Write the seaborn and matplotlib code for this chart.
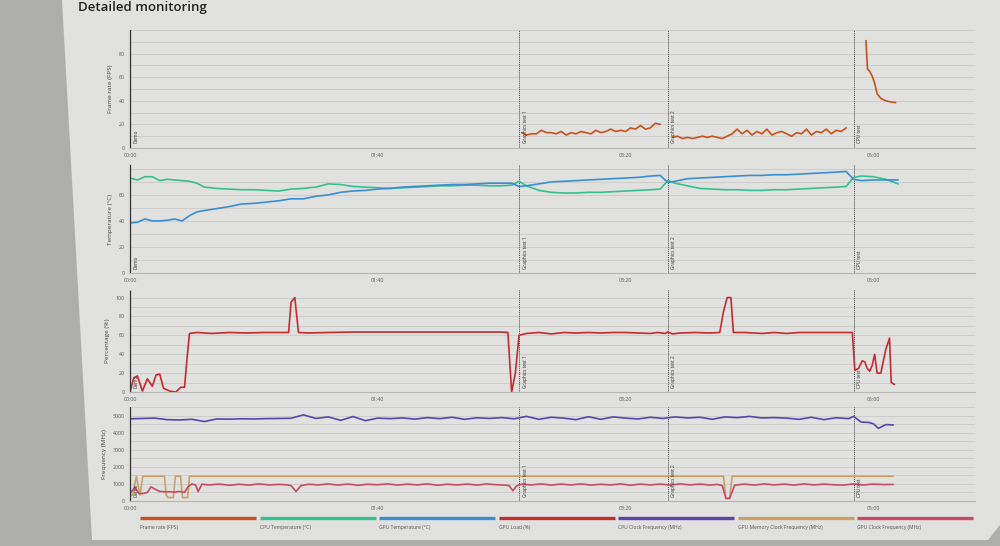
import matplotlib
matplotlib.use("Agg")
import matplotlib.pyplot as plt
from matplotlib.patches import Polygon
import seaborn as sns
import pandas as pd

# ---- data (seconds on x) ----
series_names = ["Frame rate (FPS)", "CPU Temperature (°C)", "GPU Temperature (°C)", "GPU Load (%)",
                "CPU Clock Frequency (MHz)", "GPU Memory Clock Frequency (MHz)", "GPU Clock Frequency (MHz)"]
series_colors = ["#c9521f", "#35c093", "#3a8fd2", "#c42b30", "#5a44ad", "#c9a06a", "#c94a64"]

x_ticks = [0, 100, 200, 300]
x_tick_labels = ["00:00", "01:40", "03:20", "05:00"]

marker_times = [0, 157, 217, 292]
marker_labels = ["Demo", "Graphics test 1", "Graphics test 2", "CPU test"]

fps_ticks = [0, 20, 40, 60, 80]
temp_ticks = [0, 20, 40, 60]
load_ticks = [0, 20, 40, 60, 80, 100]
freq_ticks = [0, 1000, 2000, 3000, 4000, 5000]

# frame rate, three test segments
fps_gt1_t = [158, 160, 162, 164, 166, 168, 170, 172, 174, 176, 178, 180, 182, 184, 186, 188, 190, 192, 194,
             196, 198, 200, 202, 204, 206, 208, 210, 212, 214]
fps_gt1 = [13, 11, 12, 12, 15, 13, 13, 12, 14, 11, 13, 12, 14, 13, 12, 15, 13, 14, 16,
           14, 15, 14, 17, 16, 19, 16, 17, 21, 20]
fps_gt2_t = [219, 221, 223, 225, 227, 229, 231, 233, 235, 237, 239, 241, 243, 245, 247, 249, 251, 253,
             255, 257, 259, 261, 263, 265, 267, 269, 271, 273, 275, 277, 279, 281, 283, 285, 287, 289]
fps_gt2 = [9, 10, 8, 9, 8, 9, 10, 9, 10, 9, 8, 10, 12, 16, 12, 15, 11, 14,
           12, 16, 11, 13, 14, 12, 10, 13, 12, 16, 11, 14, 13, 16, 12, 15, 14, 17]
fps_cpu_t = [297, 297.6, 298.5, 299.5, 300.5, 301.5, 303, 305, 307, 309]
fps_cpu = [91, 67, 65, 61, 55, 46, 42, 40, 39, 38.5]

# temperatures
temp_t = [0, 3, 6, 9, 12, 15, 18, 21, 24, 27, 30, 35, 40, 45, 50, 55, 60, 65, 70, 75,
          80, 85, 90, 95, 100, 105, 110, 115, 120, 125, 130, 135, 140, 145, 150, 154, 157, 160, 165, 170,
          175, 180, 185, 190, 195, 200, 205, 210, 214, 217, 220, 225, 230, 235, 240, 245, 250, 255, 260, 265,
          270, 275, 280, 285, 289, 292, 295, 300, 305, 310]
cpu_temp = [73, 71.5, 74, 74, 71, 72, 71.5, 71, 70.5, 69, 66, 65, 64.5, 64, 64, 63.5, 63, 64.5, 65, 66,
            68.5, 68, 66.5, 66, 65.5, 65, 65.5, 66, 66.5, 67, 67, 67.5, 67.5, 67, 67, 67.5, 70.5, 67, 63.5, 62,
            61.5, 61.5, 62, 62, 62.5, 63, 63.5, 64, 64.5, 71, 69, 67, 65, 64.5, 64, 64, 63.5, 63.5, 64, 64,
            64.5, 65, 65.5, 66, 66.5, 73.5, 74.5, 74, 72, 68.5]
gpu_temp = [38.5, 39, 41.5, 40, 40, 40.5, 41.5, 40, 44, 47, 48, 49.5, 51, 53, 53.5, 54.5, 55.5, 57, 57, 59,
            60, 62, 63, 63.5, 64.5, 65, 66, 66.5, 67, 67.5, 68, 68, 68.5, 69, 69, 69, 66.5, 67, 68.5, 70,
            70.5, 71, 71.5, 72, 72.5, 73, 73.5, 74.5, 75, 69.5, 70.5, 72.5, 73, 73.5, 74, 74.5, 75, 75, 75.5, 75.5,
            76, 76.5, 77, 77.5, 78, 72, 71, 71.5, 71.5, 71.5]

# GPU load
load_t = [0, 1.5, 3, 5, 7, 9, 10.5, 12, 13.5, 16, 18.5, 20.5, 22, 23, 24, 27, 33, 40, 47, 54,
          60, 64, 65, 66.5, 68, 72, 80, 90, 100, 110, 120, 130, 140, 150, 152.5, 154, 155.5, 157, 160, 165,
          170, 175, 180, 185, 190, 195, 200, 205, 210, 213, 216, 217, 219, 222, 228, 234, 238, 239.5, 241, 242.5,
          243.5, 248, 255, 260, 265, 270, 275, 280, 285, 290, 291.5, 292.5, 294, 295.5, 296.5, 297.5, 298.5, 299.5, 300.5, 301.5,
          303, 305, 306.5, 307.2, 308.5]
load_v = [0, 15, 17, 1, 14, 6, 18, 19, 4, 1, 0, 5, 5, 35, 62, 63, 62, 63, 62.5, 63,
          63, 63, 95, 100, 63, 62.5, 63, 63.5, 63.5, 63.5, 63.5, 63.5, 63.5, 63.5, 63, 0, 20, 60, 62, 63,
          61.5, 63, 62.5, 63, 62.5, 63, 63, 62.5, 62, 63, 62, 63.5, 61.5, 62.5, 63, 62.5, 63, 85, 100, 100,
          63, 63, 62, 63, 62, 63, 63, 63, 63, 63, 63, 23, 25, 33, 32, 25, 22, 28, 40, 20,
          20, 45, 57, 10, 8]

# frequencies
cpu_clk_t = [0, 5, 10, 15, 20, 25, 30, 35, 40, 45, 50, 55, 60, 65, 70, 75, 80, 85, 90, 95,
             100, 105, 110, 115, 120, 125, 130, 135, 140, 145, 150, 155, 160, 165, 170, 175, 180, 185, 190, 195,
             200, 205, 210, 215, 220, 225, 230, 235, 240, 245, 250, 255, 260, 265, 270, 275, 280, 285, 290, 292,
             295, 298, 300, 302, 305, 308]
cpu_clk = [4810, 4830, 4850, 4760, 4740, 4780, 4650, 4800, 4790, 4810, 4800, 4820, 4830, 4840, 5040, 4830, 4920, 4720, 4940, 4700,
           4850, 4820, 4860, 4790, 4880, 4820, 4900, 4780, 4870, 4830, 4880, 4810, 4950, 4780, 4900, 4850, 4760, 4930, 4780, 4920,
           4850, 4800, 4900, 4830, 4920, 4860, 4900, 4780, 4920, 4880, 4950, 4860, 4880, 4850, 4780, 4900, 4760, 4870, 4820, 4950,
           4620, 4600, 4520, 4250, 4470, 4450]
mem_clk_t = [0, 1, 2.6, 4, 5.2, 13.9, 14.6, 15.4, 17.5, 18.3, 20.4, 21.2, 23.3, 24, 239.5, 240.5, 242, 243, 308]
mem_clk = [350, 350, 1450, 350, 1450, 1450, 350, 200, 200, 1450, 1450, 200, 200, 1450, 1450, 150, 150, 1450, 1450]
gpu_clk_t = [0, 2, 3.5, 5, 7, 8.5, 10, 12, 14, 16, 18, 20, 22, 23.5, 25, 26.5, 27.5, 29, 32, 36,
             40, 44, 48, 52, 56, 60, 63, 65, 67, 69, 72, 76, 80, 84, 88, 92, 96, 100, 104, 108,
             112, 116, 120, 124, 128, 132, 136, 140, 144, 148, 151, 153, 154.5, 156, 158, 162, 166, 170, 174, 178,
             182, 186, 190, 194, 198, 202, 206, 210, 214, 218, 222, 226, 230, 234, 237, 239, 240.5, 242, 244, 248,
             252, 256, 260, 264, 268, 272, 276, 280, 284, 288, 292, 296, 300, 304, 308]
gpu_clk = [450, 800, 450, 430, 500, 830, 700, 560, 540, 540, 520, 560, 500, 850, 1000, 930, 550, 980, 940, 990,
           920, 980, 930, 1000, 940, 970, 950, 900, 560, 900, 980, 940, 1000, 930, 990, 920, 980, 950, 1000, 930,
           990, 940, 1000, 920, 980, 940, 990, 930, 1000, 950, 930, 900, 600, 880, 980, 940, 1000, 930, 990, 940,
           1000, 930, 980, 940, 1000, 920, 990, 940, 990, 930, 1000, 940, 990, 930, 970, 900, 150, 160, 920, 990,
           930, 1000, 940, 990, 930, 1000, 940, 990, 950, 930, 1000, 940, 990, 960, 970]

# ---- figure ----
sns.set_theme(style="white")
plt.rcParams['font.family'] = ['Open Sans', 'DejaVu Sans']

W, H = 1000, 546
fig = plt.figure(figsize=(10, 5.46), dpi=100)
fig.patch.set_facecolor("#aeaeac")
panel = Polygon([(62 / W, 1), (1, 1), (1, 1 - 525 / H), (988 / W, 1 - 540 / H), (92 / W, 1 - 540 / H)],
                closed=True, transform=fig.transFigure, facecolor="#e1e1df", edgecolor="none", zorder=-10)
fig.patches.append(panel)

fig.text(78 / W, 1 - 8 / H, "Detailed monitoring", fontsize=9.5, fontweight="semibold",
         color="#222222", va="center", ha="left")

AX_L, AX_R = 130, 975
rows = [(30, 148), (165, 273), (290, 392), (407, 501)]
ylims = [(0, 100), (0, 83), (0, 108), (0, 5500)]
yticks = [fps_ticks, temp_ticks, load_ticks, freq_ticks]
ygrid = [10, 10, 10, 500]
ylabels = ["Frame rate (FPS)", "Temperature (°C)", "Percentage (%)", "Frequency (MHz)"]

axes = []
for (top, bot), yl, ticks, minor in zip(rows, ylims, yticks, ygrid):
    ax = fig.add_axes([AX_L / W, 1 - bot / H, (AX_R - AX_L) / W, (bot - top) / H])
    ax.set_facecolor("none")
    ax.set_xlim(0, 341)
    ax.set_ylim(*yl)
    ax.set_yticks(ticks)
    ax.set_yticks(range(0, int(yl[1]) + 1, minor), minor=True)
    ax.grid(True, which="both", axis="y", color="#cacac8", linewidth=0.6)
    ax.set_xticks(x_ticks)
    ax.set_xticklabels(x_tick_labels)
    ax.tick_params(axis="x", length=2, width=0.5, color="#888888", labelsize=3.8, labelcolor="#555555", pad=1.5)
    ax.tick_params(axis="y", which="major", length=3, width=0.5, color="#555555", labelsize=3.8,
                   labelcolor="#555555", pad=1)
    ax.tick_params(axis="y", which="minor", length=0)
    for s in ["top", "right"]:
        ax.spines[s].set_visible(False)
    ax.spines["bottom"].set_color("#b5b5b3")
    ax.spines["bottom"].set_linewidth(0.8)
    ax.spines["left"].set_color("#333333")
    ax.spines["left"].set_linestyle((0, (1, 1)))
    ax.spines["left"].set_linewidth(0.9)
    for mt, ml in zip(marker_times, marker_labels):
        if mt > 0:
            ax.axvline(mt, color="#444444", linestyle=(0, (1, 1)), linewidth=0.7)
        ax.text(mt + 1.5, yl[1] * 0.04, ml, rotation=90, fontsize=3.4, color="#333333",
                ha="left", va="bottom")
    axes.append(ax)

ax_fps, ax_temp, ax_load, ax_freq = axes
lw = 1.2

fps_df = pd.DataFrame({
    "t": fps_gt1_t + fps_gt2_t + fps_cpu_t,
    "v": fps_gt1 + fps_gt2 + fps_cpu,
    "seg": ["gt1"] * len(fps_gt1_t) + ["gt2"] * len(fps_gt2_t) + ["cpu"] * len(fps_cpu_t),
})
sns.lineplot(data=fps_df, x="t", y="v", units="seg", estimator=None, color=series_colors[0],
             linewidth=lw, ax=ax_fps)

sns.lineplot(x=temp_t, y=cpu_temp, color=series_colors[1], linewidth=lw, ax=ax_temp)
sns.lineplot(x=temp_t, y=gpu_temp, color=series_colors[2], linewidth=lw, ax=ax_temp)

sns.lineplot(x=load_t, y=load_v, color=series_colors[3], linewidth=lw, ax=ax_load)

sns.lineplot(x=cpu_clk_t, y=cpu_clk, color=series_colors[4], linewidth=lw, ax=ax_freq)
sns.lineplot(x=mem_clk_t, y=mem_clk, color=series_colors[5], linewidth=lw, ax=ax_freq)
sns.lineplot(x=gpu_clk_t, y=gpu_clk, color=series_colors[6], linewidth=lw, ax=ax_freq)

for ax, lab in zip(axes, ylabels):
    ax.set_xlabel("")
    ax.set_ylabel(lab, fontsize=4.6, color="#444444", labelpad=4)

# legend strip: colored bar with label under it
leg = fig.add_axes([140 / W, 1 - 535 / H, 837 / W, 22 / H])
leg.set_xlim(0, len(series_names))
leg.set_ylim(0, 1)
leg.axis("off")
for i, (name, col) in enumerate(zip(series_names, series_colors)):
    leg.plot([i, i + 0.97], [0.78, 0.78], color=col, linewidth=2.4, solid_capstyle="butt")
    leg.text(i, 0.35, name, fontsize=3.6, color="#555555", ha="left", va="center")

fig.savefig("out.png", dpi=100, facecolor=fig.get_facecolor())
